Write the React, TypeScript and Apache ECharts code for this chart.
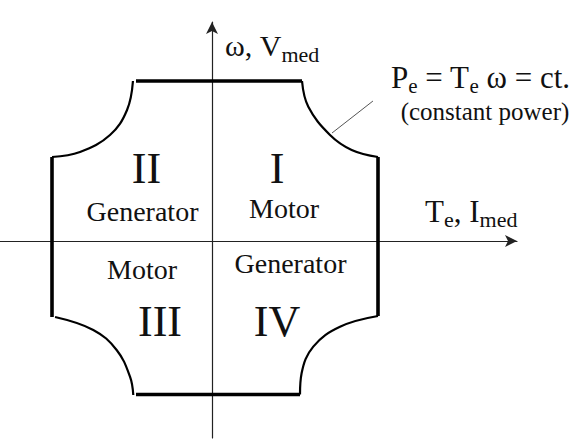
import React, { useEffect, useRef } from "react";
import * as echarts from "echarts";

// Data in diagram units (torque T horizontal, speed ω vertical), origin at axes crossing.
const topEdge: number[][] = [[-4.75, 10], [5.625, 10]];
const rightEdge: number[][] = [[10.375, 5.25], [10.375, -4.69]];
const bottomEdge: number[][] = [[5.5, -9.59], [-4.75, -9.59]];
const leftEdge: number[][] = [[-10, -4.75], [-10, 5.25]];

const arcQ1: number[][] = [[5.625, 10], [6.02, 8.39], [7.375, 6.625], [8.73, 5.69], [10.375, 5.25]];
const arcQ2: number[][] = [[-10, 5.25], [-8.25, 5.56], [-6.375, 6.625], [-5.31, 8.19], [-4.94, 10]];
const arcQ3: number[][] = [[-9.81, -4.75], [-7.42, -5.56], [-5.96, -6.81], [-5.125, -8.48], [-4.92, -9.625]];
const arcQ4: number[][] = [[5.5, -9.59], [5.6, -8.27], [6.33, -6.6], [8.0, -5.36], [10.375, -4.69]];

const leader: number[][] = [[7.5, 6.75], [10.06, 8.75]];

const quadrantNumerals = ["I", "II", "III", "IV"];
const quadrantModes = ["Motor", "Generator", "Motor", "Generator"];

// [text, isSubscript]
const yAxisTitle: [string, boolean][] = [["ω, V", false], ["med", true]];
const xAxisTitle: [string, boolean][] = [["T", false], ["e", true], [", I", false], ["med", true]];
const powerLaw: [string, boolean][] = [["P", false], ["e", true], [" = T", false], ["e", true], [" ω = ct.", false]];
const powerNote = "(constant power)";

const SERIF = "Liberation Serif";

export default function App() {
  const ref = useRef<HTMLDivElement>(null);
  useEffect(() => {
    if (!ref.current) return;
    const chart = echarts.init(ref.current, undefined, { renderer: "svg" });

    const canvas = document.createElement("canvas");
    const ctx = canvas.getContext("2d")!;
    const measure = (t: string, size: number) => {
      ctx.font = `${size}px "${SERIF}"`;
      return ctx.measureText(t).width;
    };

    const edge = (data: number[][]) => ({
      type: "line",
      data,
      showSymbol: false,
      symbol: "none",
      silent: true,
      lineStyle: { color: "#000", width: 3.6, cap: "butt" },
    });
    const arc = (data: number[][]) => ({
      type: "line",
      data,
      showSymbol: false,
      symbol: "none",
      smooth: 0.4,
      silent: true,
      lineStyle: { color: "#000", width: 2.2 },
    });

    const txt = (text: string, x: number, baseline: number, size: number, align = "left") => ({
      type: "text",
      silent: true,
      style: {
        text,
        x,
        y: baseline - 0.3375 * size,
        fontFamily: SERIF,
        fontSize: size,
        fill: "#111",
        align,
        verticalAlign: "middle",
      },
    });

    const seq = (pieces: [string, boolean][], x0: number, baseline: number, mainF: number, subF: number, drop: number) => {
      const els: any[] = [];
      let x = x0;
      for (const [t, sub] of pieces) {
        const size = sub ? subF : mainF;
        const trimmed = t.replace(/^\s+/, "");
        const lead = t.length - trimmed.length;
        const leadW = lead > 0 ? measure(t.slice(0, lead), size) : 0;
        els.push(txt(trimmed, x + leadW, baseline + (sub ? drop : 0), size));
        x += measure(t, size);
      }
      return els;
    };

    chart.setOption({
      animation: false,
      backgroundColor: "#fff",
      grid: { left: 0, right: 70, top: 22, bottom: 6 },
      xAxis: {
        type: "value",
        min: -13.25,
        max: 19.0625,
        axisLine: {
          onZero: true,
          symbol: ["none", "arrow"],
          symbolSize: [9, 12],
          lineStyle: { color: "#222", width: 1.2 },
        },
        axisTick: { show: false },
        axisLabel: { show: false },
        splitLine: { show: false },
      },
      yAxis: {
        type: "value",
        min: -12.3125,
        max: 13.6875,
        axisLine: {
          onZero: true,
          symbol: ["none", "arrow"],
          symbolSize: [9, 12],
          lineStyle: { color: "#222", width: 1.2 },
        },
        axisTick: { show: false },
        axisLabel: { show: false },
        splitLine: { show: false },
      },
      series: [
        edge(topEdge),
        edge(rightEdge),
        edge(bottomEdge),
        edge(leftEdge),
        arc(arcQ1),
        arc(arcQ2),
        arc(arcQ3),
        arc(arcQ4),
        {
          type: "line",
          data: leader,
          showSymbol: false,
          symbol: "none",
          silent: true,
          lineStyle: { color: "#555", width: 1 },
        },
      ],
      graphic: [
        txt(quadrantNumerals[0], 277, 183, 44, "center"),
        txt(quadrantNumerals[1], 146.5, 183, 44, "center"),
        txt(quadrantNumerals[2], 160, 336, 44, "center"),
        txt(quadrantNumerals[3], 277, 336, 44, "center"),
        txt(quadrantModes[0], 284, 218, 28, "center"),
        txt(quadrantModes[1], 142.5, 221, 28, "center"),
        txt(quadrantModes[2], 142, 279, 28, "center"),
        txt(quadrantModes[3], 290.5, 273, 28, "center"),
        ...seq(yAxisTitle, 225, 56, 30, 22, 6),
        ...seq(xAxisTitle, 425, 222, 31, 22, 5),
        ...seq(powerLaw, 391, 88, 31, 21, 5),
        txt(powerNote, 485, 120, 25, "center"),
      ],
    });
    return () => chart.dispose();
  }, []);

  return (
    <div
      ref={ref}
      style={{ position: "absolute", left: 0, top: 0, width: 587, height: 444, background: "#fff" }}
    />
  );
}
